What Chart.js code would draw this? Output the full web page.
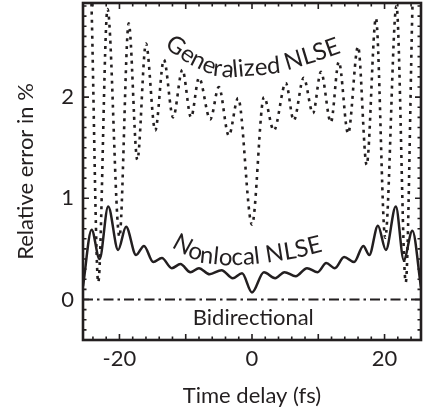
<!DOCTYPE html>
<html>
<head>
<meta charset="utf-8">
<script src="https://cdn.jsdelivr.net/npm/chart.js@4"></script>
<style>
  body { margin: 0; background: #fff; }
  canvas { display: block; }
</style>
</head>
<body>
<canvas id="errChart" width="423" height="414"></canvas>
<script>
// Tick labels
const xTicks = [-20, 0, 20];
const yTicks = [0, 1, 2];

// Nonlocal NLSE (solid)
const nonlocalX = [-25.5, -24.2, -23.0, -21.7, -20.2, -19.0, -17.5, -16.3, -14.9, -13.6, -12.1, -10.8, -9.3, -8.0,
    -6.4, -4.6, -2.9, -1.5, 0.0, 1.8, 3.5, 4.9, 6.6, 8.3, 9.9, 11.2, 12.5, 13.9, 15.4, 16.8, 17.7, 19.0, 20.2,
    21.7, 22.9, 24.2, 25.5];
const nonlocalY = [0.13, 0.69, 0.40, 0.92, 0.49, 0.72, 0.44, 0.53, 0.37, 0.41, 0.31, 0.35, 0.27, 0.31,
    0.25, 0.29, 0.21, 0.26, 0.07, 0.27, 0.21, 0.27, 0.23, 0.31, 0.27, 0.36, 0.31, 0.42, 0.37, 0.53, 0.44, 0.73, 0.49,
    0.92, 0.39, 0.68, 0.12];

// Generalized NLSE (dotted)
const generalX = [-25.5, -24.3, -23.2, -21.8, -20.0, -18.6, -17.3, -16.0, -14.6, -13.3, -11.9, -10.5, -9.2, -8.0,
    -6.3, -5.0, -3.5, -2.1, 0.0, 1.8, 3.3, 5.1, 6.3, 7.8, 9.2, 10.4, 11.9, 13.1, 14.5, 16.0, 17.3, 18.7, 20.1,
    21.8, 23.2, 24.3, 25.5];
const generalY = [4.5, 3.1, 0.17, 2.87, 0.62, 2.73, 1.38, 2.53, 1.67, 2.37, 1.80, 2.27, 1.80, 2.19,
    1.78, 2.10, 1.62, 1.99, 0.74, 2.00, 1.67, 2.14, 1.77, 2.19, 1.84, 2.25, 1.75, 2.35, 1.64, 2.50, 1.33, 2.78, 0.61,
    2.90, 0.17, 3.1, 4.5];

// Bidirectional (dash-dot)
const bidirX = [-25.5, 25.5];
const bidirY = [0, 0];

const ink = '#231f20';
const fontFamily = 'Lato, "Liberation Sans", sans-serif';

const toPoints = (xs, ys) => xs.map((x, i) => ({ x: x, y: ys[i] }));

// Place characters along a polyline (pixel coords)
function textOnPath(ctx, text, pts) {
    const seg = [];
    let total = 0;
    for (let i = 1; i < pts.length; i++) {
        const dx = pts[i][0] - pts[i - 1][0];
        const dy = pts[i][1] - pts[i - 1][1];
        const len = Math.hypot(dx, dy);
        seg.push({ x: pts[i - 1][0], y: pts[i - 1][1], dx: dx, dy: dy, len: len, start: total });
        total += len;
    }
    const at = (s) => {
        let k = seg.length - 1;
        for (let i = 0; i < seg.length; i++) {
            if (s <= seg[i].start + seg[i].len) { k = i; break; }
        }
        const g = seg[k];
        const t = (s - g.start) / g.len;
        return { x: g.x + g.dx * t, y: g.y + g.dy * t, a: Math.atan2(g.dy, g.dx) };
    };
    let s = 0;
    for (const ch of text) {
        const w = ctx.measureText(ch).width;
        const p = at(s + w / 2);
        ctx.save();
        ctx.translate(p.x, p.y);
        ctx.rotate(p.a);
        ctx.fillText(ch, -w / 2, 0);
        ctx.restore();
        s += w;
    }
}

const frame = {
    id: 'frame',
    afterDatasetsDraw(chart) {
        const { ctx, chartArea: a, scales: { x, y } } = chart;
        ctx.save();
        ctx.strokeStyle = ink;
        ctx.lineWidth = 1.6;
        ctx.beginPath();
        for (let v = -24; v <= 24; v += 2) {
            const px = x.getPixelForValue(v);
            const len = v % 10 === 0 ? 6 : 3.5;
            ctx.moveTo(px, a.bottom); ctx.lineTo(px, a.bottom - len);
            ctx.moveTo(px, a.top); ctx.lineTo(px, a.top + len);
        }
        for (let i = -4; i <= 29; i++) {
            const py = y.getPixelForValue(i / 10);
            const len = i % 10 === 0 ? 6 : 3.5;
            ctx.moveTo(a.left, py); ctx.lineTo(a.left + len, py);
            ctx.moveTo(a.right, py); ctx.lineTo(a.right - len, py);
        }
        ctx.stroke();
        ctx.lineWidth = 2.6;
        ctx.strokeRect(a.left, a.top, a.right - a.left, a.bottom - a.top);
        ctx.restore();
    },
    afterDraw(chart) {
        const { ctx, scales: { x } } = chart;
        ctx.save();
        ctx.fillStyle = ink;
        ctx.textBaseline = 'alphabetic';
        ctx.font = '24px ' + fontFamily;
        textOnPath(ctx, 'Generalized NLSE',
            [[164, 47], [187, 63], [203, 71], [216, 76], [230, 77.5], [246, 76], [262, 75], [280, 73], [295, 68], [315, 62], [340, 53]]);
        textOnPath(ctx, 'Nonlocal NLSE',
            [[171, 247], [191, 258], [205, 263], [229, 265.5], [251, 264.5], [272, 262], [297, 258], [324, 251]]);
        ctx.font = '22px ' + fontFamily;
        ctx.textAlign = 'center';
        ctx.fillText('Bidirectional', x.getPixelForValue(0.2), 325);
        ctx.restore();
    }
};

const noPad = (scale) => {
    scale.paddingTop = 0; scale.paddingBottom = 0;
    scale.paddingLeft = 0; scale.paddingRight = 0;
};

Chart.defaults.font.family = fontFamily;
Chart.defaults.font.size = 22;
Chart.defaults.color = ink;

new Chart(document.getElementById('errChart'), {
    type: 'line',
    data: {
        datasets: [
            {
                label: 'Bidirectional',
                data: toPoints(bidirX, bidirY),
                borderColor: ink,
                borderWidth: 2,
                borderDash: [10, 4, 2.5, 4],
                pointRadius: 0
            },
            {
                label: 'Nonlocal NLSE',
                data: toPoints(nonlocalX, nonlocalY),
                borderColor: ink,
                borderWidth: 2.5,
                cubicInterpolationMode: 'monotone',
                pointRadius: 0,
                clip: 0
            },
            {
                label: 'Generalized NLSE',
                data: toPoints(generalX, generalY),
                borderColor: ink,
                borderWidth: 2.6,
                borderDash: [3, 5],
                borderCapStyle: 'butt',
                cubicInterpolationMode: 'monotone',
                pointRadius: 0,
                clip: 0
            }
        ]
    },
    options: {
        responsive: false,
        animation: false,
        layout: { padding: { top: 3, right: 2, left: 0, bottom: 0 } },
        plugins: {
            legend: { display: false },
            tooltip: { enabled: false }
        },
        scales: {
            x: {
                type: 'linear',
                min: -25.5,
                max: 25.5,
                grid: { display: false, drawTicks: false },
                border: { display: false },
                afterBuildTicks: (s) => { s.ticks = xTicks.map(v => ({ value: v })); },
                afterFit: (s) => { s.height = 74; noPad(s); },
                ticks: { padding: 6, maxRotation: 0 },
                title: {
                    display: true,
                    text: 'Time delay (fs)',
                    padding: { top: 0, bottom: 5 }
                }
            },
            y: {
                type: 'linear',
                min: -0.4,
                max: 2.93,
                grid: { display: false, drawTicks: false },
                border: { display: false },
                afterBuildTicks: (s) => { s.ticks = yTicks.map(v => ({ value: v })); },
                afterFit: (s) => { s.width = 83; noPad(s); },
                ticks: { padding: 9 },
                title: {
                    display: true,
                    text: 'Relative error in %',
                    padding: { top: 13, bottom: 0 }
                }
            }
        }
    },
    plugins: [frame]
});
</script>
</body>
</html>
